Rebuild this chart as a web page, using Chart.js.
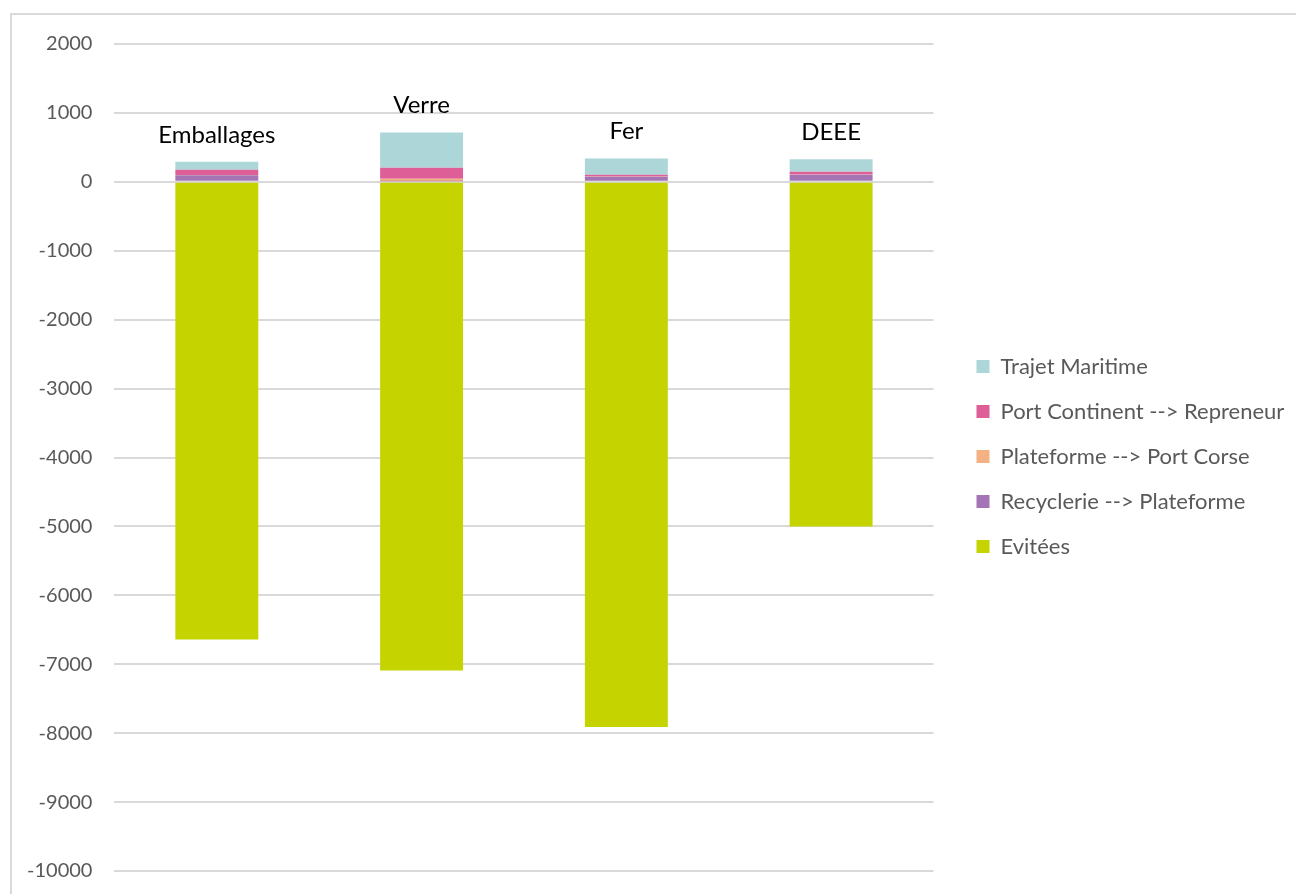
<!DOCTYPE html>
<html>
<head>
<meta charset="utf-8">
<script src="https://cdn.jsdelivr.net/npm/chart.js@4/dist/chart.umd.min.js"></script>
<style>
  html, body { margin: 0; padding: 0; background: #fff; }
  #frame {
    position: absolute; left: 10px; top: 13px;
    width: 1300px; height: 900px;
    border-left: 2px solid #d9d9d9; border-top: 2px solid #d9d9d9;
    box-sizing: border-box;
  }
  #box { position: absolute; left: 12px; top: 15px; width: 1284px; height: 879px; }
</style>
</head>
<body>
<div id="frame"></div>
<div id="box"><canvas id="myChart"></canvas></div>
<script>
// Enter your code below

var categories = ["Emballages", "Verre", "Fer", "DEEE"];

var evitees = [-6640, -7090, -7910, -5000];
var recyclerie = [95, 10, 72, 101];
var plateformePort = [5, 35, 5, 5];
var portContinent = [75, 160, 25, 39];
var trajetMaritime = [115, 510, 236, 184];

var yTicks = [2000, 1000, 0, -1000, -2000, -3000, -4000, -5000, -6000, -7000, -8000, -9000, -10000];

var fontName = "Lato, 'Open Sans', sans-serif";

// labels with the category name above each stack
var topLabels = {
  id: 'topLabels',
  afterLayout: function(chart) {
    // legend sits a fixed gap right of the plot, up to the canvas edge
    chart.legend.left = chart.chartArea.right + 20;
    chart.legend.right = chart.width;
    chart.legend.width = chart.legend.right - chart.legend.left;
    chart.legend.top += 2;
    chart.legend.bottom += 2;
  },
  afterDatasetsDraw: function(chart) {
    var ctx = chart.ctx;
    var xs = chart.scales.x;
    var ys = chart.scales.y;
    ctx.save();
    ctx.fillStyle = '#000';
    ctx.font = "24px " + fontName;
    ctx.textAlign = 'center';
    ctx.textBaseline = 'middle';
    categories.forEach(function(name, i) {
      var top = recyclerie[i] + plateformePort[i] + portContinent[i] + trajetMaritime[i];
      var x = xs.getPixelForValue(i);
      var y = ys.getPixelForValue(top) - 27;
      ctx.fillText(name, x, y);
    });
    ctx.restore();
  }
};

var donnees = {
  labels: categories,
  datasets: [
    { label: "Evitées", data: evitees, backgroundColor: 'rgb(197, 211, 0)' },
    { label: "Recyclerie --> Plateforme", data: recyclerie, backgroundColor: 'rgb(165, 116, 180)' },
    { label: "Plateforme --> Port Corse", data: plateformePort, backgroundColor: 'rgb(244, 177, 131)' },
    { label: "Port Continent --> Repreneur", data: portContinent, backgroundColor: 'rgb(222, 94, 152)' },
    { label: "Trajet Maritime", data: trajetMaritime, backgroundColor: 'rgb(173, 214, 216)' }
  ]
};

var chart = new Chart(document.getElementById("myChart"), {
  type: 'bar',
  data: donnees,
  plugins: [topLabels],
  options: {
    responsive: true,
    maintainAspectRatio: false,
    animation: false,
    layout: { padding: { top: 0, bottom: 0, left: -7, right: 53 } },
    datasets: { bar: { categoryPercentage: 1, barPercentage: 0.405 } },
    scales: {
      x: { stacked: true, display: false },
      y: {
        stacked: true,
        min: -10000, max: 2000,
        afterBuildTicks: function(axis) {
          axis.ticks = yTicks.map(function(v) { return { value: v }; });
        },
        afterFit: function(axis) {
          axis.paddingTop = 29;
          axis.paddingBottom = 23;
        },
        border: { display: false },
        grid: { color: '#d9d9d9', lineWidth: 2, drawTicks: false },
        ticks: {
          color: '#595959', padding: 22,
          font: { family: fontName, size: 20 },
          callback: function(v) { return String(v); }
        }
      }
    },
    plugins: {
      legend: {
        position: 'right',
        reverse: true,
        labels: {
          color: '#595959',
          boxWidth: 13, boxHeight: 13,
          padding: 23,
          font: { family: fontName, size: 22 }
        }
      },
      tooltip: { enabled: false }
    }
  }
});
</script>
</body>
</html>
